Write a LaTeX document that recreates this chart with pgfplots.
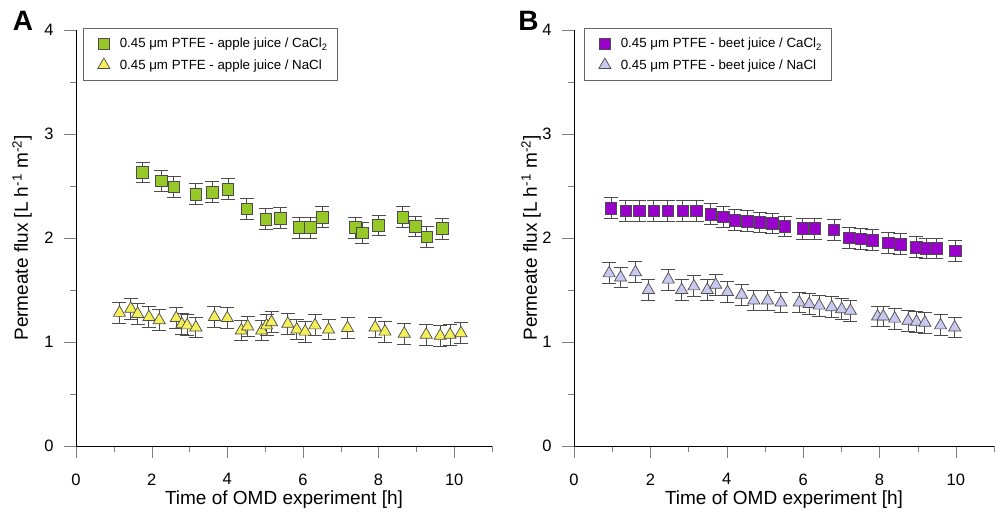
\documentclass[border=0pt]{standalone}
\usepackage{pgfplots}
\pgfplotsset{compat=1.18}
\usepackage{fontspec}
\setmainfont{Liberation Sans}
\definecolor{cgreen}{RGB}{150,200,40}
\definecolor{cyellow}{RGB}{245,240,90}
\definecolor{cpurple}{RGB}{153,0,204}
\definecolor{clav}{RGB}{200,200,240}
\pgfplotsset{
  myaxis/.style={
    scale only axis, clip=false,
    height=416pt,
    xmin=0, xmax=11, ymin=0, ymax=4,
    axis x line*=bottom, axis y line*=left,
    tick align=outside,
    major tick length=12pt, minor tick length=6pt,
    xtick={0,2,4,6,8,10}, minor xtick={1,3,5,7,9,11},
    ytick={0,1,2,3,4}, minor ytick={0.5,1.5,2.5,3.5},
    tick label style={font=\fontsize{16.5}{18}\selectfont},
    xticklabel style={yshift=-12pt},
    yticklabel style={xshift=-7pt},
    /pgf/number format/assume math mode=true,
    xlabel={Time of OMD experiment [h]},
    ylabel={Permeate flux [L h\textsuperscript{-1} m\textsuperscript{-2}]},
    every axis x label/.style={at={(axis description cs:0.5,-0.1418)}, anchor=base, font=\fontsize{19}{21}\selectfont},
    legend style={draw=black!60, line width=0.8pt, font=\fontsize{13.3}{15}\selectfont, anchor=north west, row sep=6pt, inner xsep=8pt, inner ysep=8pt},
    legend cell align=left,
    legend image code/.code={\path (-12pt,0pt) (13.5pt,0pt); \draw[##1] plot coordinates {(0pt,0pt)};},
  },
  eb/.style={forget plot, only marks, mark=none,
    error bars/y dir=both, error bars/y fixed=0.1,
    error bars/error bar style={line width=1pt, black!70},
    error bars/error mark options={mark size=7pt, line width=1pt, black!70, rotate=90}},
  sq/.style={only marks, mark=square*, mark size=5.8pt, mark options={fill=#1, draw=black!70, line width=0.7pt}},
  tri/.style={only marks, mark=triangle*, mark size=7pt, mark options={fill=#1, draw=black!70, line width=0.7pt}},
}
\pgfplotstableread{
x y
1.76 2.63
2.25 2.55
2.59 2.49
3.17 2.42
3.60 2.44
4.02 2.47
4.52 2.28
5.02 2.18
5.40 2.19
5.90 2.10
6.19 2.10
6.51 2.20
7.39 2.10
7.57 2.05
8.00 2.12
8.64 2.20
8.97 2.11
9.28 2.01
9.68 2.09
}\appleCa
\pgfplotstableread{
x y
1.15 1.28
1.45 1.32
1.63 1.27
1.93 1.24
2.20 1.21
2.65 1.23
2.80 1.17
2.94 1.16
3.17 1.14
3.66 1.24
4.00 1.23
4.37 1.11
4.54 1.15
4.91 1.11
5.04 1.16
5.17 1.19
5.60 1.175
5.84 1.12
6.06 1.10
6.32 1.16
6.68 1.12
7.18 1.135
7.91 1.14
8.17 1.10
8.68 1.08
9.26 1.07
9.63 1.06
9.89 1.07
10.18 1.085
}\appleNa
\pgfplotstableread{
x y
0.97 2.285
1.36 2.26
1.71 2.26
2.09 2.26
2.46 2.26
2.85 2.26
3.21 2.26
3.58 2.23
3.91 2.205
4.21 2.17
4.54 2.16
4.87 2.15
5.19 2.14
5.52 2.11
5.99 2.09
6.31 2.09
6.81 2.08
7.21 2.00
7.51 1.99
7.81 1.98
8.23 1.955
8.55 1.94
8.97 1.91
9.23 1.90
9.49 1.90
9.99 1.875
}\beetCa
\pgfplotstableread{
x y
0.92 1.66
1.22 1.62
1.61 1.67
1.95 1.50
2.47 1.60
2.82 1.50
3.14 1.535
3.49 1.50
3.71 1.55
4.02 1.48
4.39 1.455
4.71 1.40
5.07 1.40
5.42 1.38
5.90 1.38
6.16 1.365
6.42 1.35
6.75 1.335
7.01 1.315
7.24 1.30
7.95 1.245
8.10 1.245
8.40 1.225
8.75 1.205
8.97 1.195
9.19 1.185
9.60 1.16
9.97 1.14
}\beetNa
\begin{document}
\begin{tikzpicture}
\useasboundingbox (0,0) rectangle (997pt,-513pt);
\begin{axis}[myaxis, width=416pt, at={(76pt,-446pt)}, anchor=south west,
  every axis y label/.style={at={(axis description cs:-0.1298,0.5)}, rotate=90, anchor=center, font=\fontsize{19}{21}\selectfont},
  legend style={at={(rel axis cs:0.017,1.005)}}]
\addplot[eb] table {\appleCa};
\addplot[eb] table {\appleNa};
\addplot[sq=cgreen] table {\appleCa};
\addlegendentry{0.45 μm PTFE - apple juice / CaCl\textsubscript{2}}
\addplot[tri=cyellow] table {\appleNa};
\addlegendentry{0.45 μm PTFE - apple juice / NaCl}
\node[anchor=north west, font=\bfseries\fontsize{28}{30}\selectfont, inner sep=0pt] at (axis description cs:-0.152,1.045) {A};
\end{axis}
\begin{axis}[myaxis, width=420pt, at={(574pt,-446pt)}, anchor=south west,
  every axis y label/.style={at={(axis description cs:-0.102,0.5)}, rotate=90, anchor=center, font=\fontsize{19}{21}\selectfont},
  legend style={at={(rel axis cs:0.024,1.005)}}]
\addplot[eb] table {\beetCa};
\addplot[eb] table {\beetNa};
\addplot[sq=cpurple] table {\beetCa};
\addlegendentry{0.45 μm PTFE - beet juice / CaCl\textsubscript{2}}
\addplot[tri=clav] table {\beetNa};
\addlegendentry{0.45 μm PTFE - beet juice / NaCl}
\node[anchor=north west, font=\bfseries\fontsize{28}{30}\selectfont, inner sep=0pt] at (axis description cs:-0.133,1.045) {B};
\end{axis}
\end{tikzpicture}
\end{document}
